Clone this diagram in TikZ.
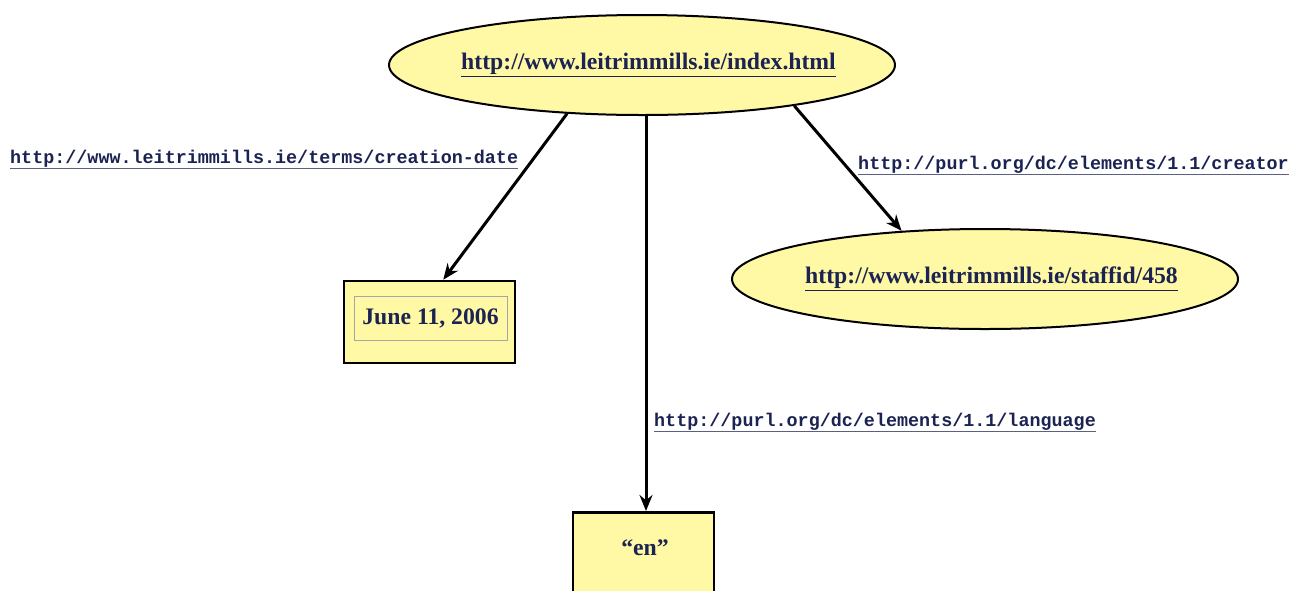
\documentclass[tikz,border=0pt]{standalone}
\usepackage{fontspec}
\setmainfont{Liberation Serif}
\setmonofont{Liberation Mono}
\usetikzlibrary{arrows.meta,shapes.geometric,calc}
\definecolor{nodefill}{HTML}{FFF9A5}
\definecolor{navy}{HTML}{1B2352}
\definecolor{ulcol}{HTML}{5A6080}
\newcommand{\shiftedtext}[1]{\makebox[0pt][c]{\hspace*{13pt}\underline{#1}}}
\tikzset{
  resnode/.style={ellipse, draw=black, line width=2pt, fill=nodefill, inner sep=0pt,
    minimum width=506pt, minimum height=100pt, text=navy,
    font=\fontsize{23.7}{28}\selectfont\bfseries},
  litnode/.style={rectangle, draw=black, line width=2.5pt, fill=nodefill, inner sep=0pt,
    text=navy, font=\fontsize{23.7}{28}\selectfont\bfseries},
  edgelabel/.style={inner sep=0pt, text=navy, font=\fontsize{18.4}{22}\selectfont\ttfamily\bfseries},
  arc/.style={line width=3pt, draw=black, -{Stealth[length=16pt,width=13pt]}},
}
\begin{document}
\begin{tikzpicture}[x=1pt,y=-1pt]
\useasboundingbox (0,0) rectangle (1303,590);
\clip (0,0) rectangle (1303,590);
\node[resnode] (top) at (642,65) {\shiftedtext{http://www.leitrimmills.ie/index.html}};
\node[resnode] (staff) at (985,279) {\shiftedtext{http://www.leitrimmills.ie/staffid/458}};
\node[litnode, minimum width=171pt, minimum height=82pt] (date) at (429.5,322) {};
\node[draw=gray!70, line width=0.8pt, inner sep=0pt, minimum width=153pt, minimum height=44pt,
  text=navy, font=\fontsize{23.7}{28}\selectfont\bfseries] (dateinner) at (430.5,318) {June 11, 2006};
\node[litnode, minimum width=141pt, minimum height=110pt, anchor=north] (en) at (643.5,511) {};
\node[text=navy, font=\fontsize{23.7}{28}\selectfont\bfseries, inner sep=0pt] (entext) at (645,548) {“en”};
\draw[arc] (top.213) -- (date.72);
\draw[arc] ([xshift=4pt]top.south) -- ([xshift=4pt]top.south |- en.north);
\draw[arc] (top.345) -- (staff.150);
\node[edgelabel, anchor=base west] (l1) at (10,163) {\color{ulcol}\underline{\color{navy}http://www.leitrimmills.ie/terms/creation-date}};
\node[edgelabel, anchor=base west] (l2) at (858,169) {\color{ulcol}\underline{\color{navy}http://purl.org/dc/elements/1.1/creator}};
\node[edgelabel, anchor=base west] (l3) at (654,426) {\color{ulcol}\underline{\color{navy}http://purl.org/dc/elements/1.1/language}};
\end{tikzpicture}
\end{document}
